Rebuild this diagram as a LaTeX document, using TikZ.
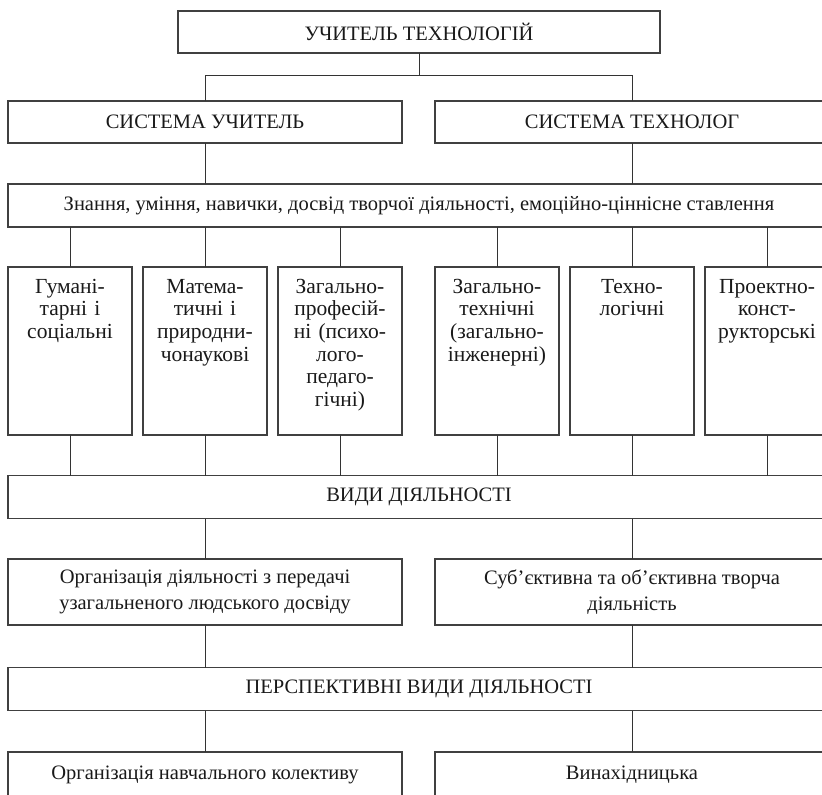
\documentclass[tikz,border=0pt]{standalone}
\usepackage{fontspec}
\setmainfont{Liberation Serif}
\usetikzlibrary{positioning}

\tikzset{
  box/.style={rectangle, draw=black!75, line width=1.3pt, outer sep=0pt, align=center, inner sep=2pt,
    font=\fontsize{20.5}{26}\selectfont, text=black!90},
  widebox/.style={box, minimum width=822pt, minimum height=43pt},
  halfbox/.style={box, minimum width=394pt, minimum height=42pt},
  colbox/.style={box, anchor=north, text width=120pt, inner xsep=2pt, inner ysep=3pt,
    font=\fontsize{21.5}{22.7}\selectfont, text height=23pt, text depth=139pt},
  link/.style={draw=black!80, line width=0.9pt}
}

\begin{document}
\begin{tikzpicture}[x=1pt, y=-1pt]
\useasboundingbox (0,0) rectangle (822,795);
\clip (0,0) rectangle (822,795);

\node [box, minimum width=482pt, minimum height=42pt] (teacher) at (419,32) {УЧИТЕЛЬ ТЕХНОЛОГІЙ};

%systems
\node [halfbox] (sysT) at (205,122) {СИСТЕМА УЧИТЕЛЬ};
\node [halfbox, right=33pt of sysT] (sysE) {СИСТЕМА ТЕХНОЛОГ};
\draw [link] (teacher.south) -- ++(0,22) coordinate (split) -| (sysT.north);
\draw [link] (split) -| (sysE.north);

\node [widebox] (know) at (419,205.5) {Знання, уміння, навички, досвід творчої діяльності, емоційно-ціннісне ставлення};
\draw [link] (sysT.south) -- (sysT.south |- know.north);
\draw [link] (sysE.south) -- (sysE.south |- know.north);

%cycles of disciplines
\node [colbox] (hum) at (70,267) {Гумані-\\тарні і\\соціальні};
\node [colbox, right=11pt of hum] (math) {Матема-\\тичні і\\природни-\\чонаукові};
\node [colbox, right=11pt of math] (prof) {Загально-\\професій-\\ні (психо-\\лого-\\педаго-\\гічні)};
\node [colbox, right=33pt of prof] (tech) {Загально-\\технічні\\(загально-\\інженерні)};
\node [colbox, right=11pt of tech] (techn) {Техно-\\логічні};
\node [colbox, right=11pt of techn] (proj) {Проектно-\\конст-\\рукторські};

\node [widebox] (kinds) at (419,497) {ВИДИ ДІЯЛЬНОСТІ};

\foreach \c in {hum,math,prof,tech,techn,proj} {
  \draw [link] (know.south -| \c.north) -- (\c.north);
  \draw [link] (\c.south) -- (\c.south |- kinds.north);
}

%activities
\node [halfbox, minimum height=66pt] (orgL) at (205,592) {Організація діяльності з передачі\\узагальненого людського досвіду};
\node [halfbox, minimum height=66pt, right=33pt of orgL] (orgR) {Суб’єктивна та об’єктивна творча\\діяльність};
\draw [link] (kinds.south -| orgL.north) -- (orgL.north);
\draw [link] (kinds.south -| orgR.north) -- (orgR.north);

\node [widebox] (persp) at (419,689) {ПЕРСПЕКТИВНІ ВИДИ ДІЯЛЬНОСТІ};
\draw [link] (orgL.south) -- (orgL.south |- persp.north);
\draw [link] (orgR.south) -- (orgR.south |- persp.north);

%output
\node [halfbox, minimum height=45pt] (team) at (205,774.5) {Організація навчального колективу};
\node [halfbox, minimum height=45pt, right=33pt of team] (invent) {Винахідницька};
\draw [link] (persp.south -| team.north) -- (team.north);
\draw [link] (persp.south -| invent.north) -- (invent.north);

\end{tikzpicture}
\end{document}
